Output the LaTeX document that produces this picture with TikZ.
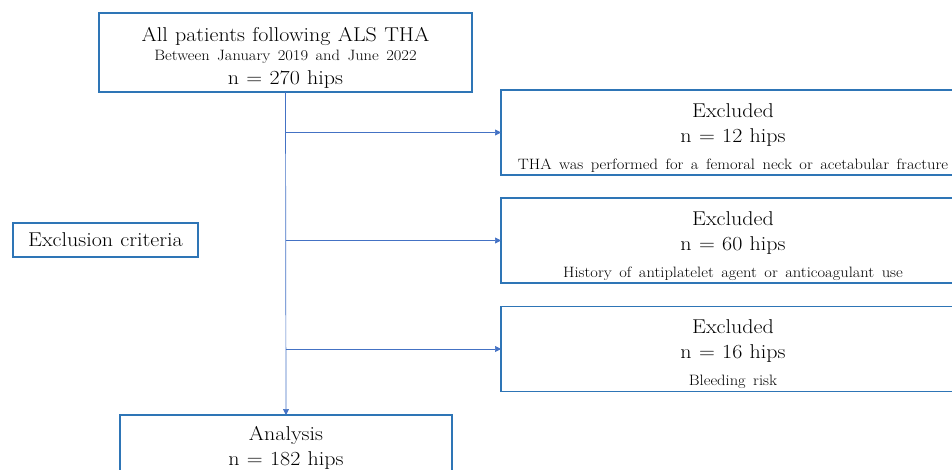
\documentclass[tikz,border=0pt]{standalone}
\usepackage{fontspec}
\setmainfont{Latin Modern Roman}[FakeStretch=1.1,WordSpace=1.1]
\newfontfamily\klfont{Latin Modern Roman}[FakeStretch=1.1,WordSpace=1.5]
\usetikzlibrary{arrows.meta}
\definecolor{rahmen}{HTML}{2E75B6}
\definecolor{linie}{HTML}{4472C4}
\tikzset{
	kasten/.style={draw=rahmen,line width=1.1pt,rectangle,inner sep=0pt,outer sep=0pt,align=center,font=\fontsize{20}{25}\selectfont},
	pfeil/.style={draw=linie,line width=0.7pt,-{Triangle[length=6pt,width=6pt]}}
}
\newcommand{\kl}[1]{{\klfont\fontsize{15}{19}\selectfont #1}}
\newcommand{\hoch}[1]{\rule{0pt}{#1pt}}
\begin{document}
\begin{tikzpicture}[x=1pt,y=-1pt]
	%\draw[step=50,gray!20] (0,0) grid (952,469); %Hilfsgitter
	\useasboundingbox (0,0) rectangle (952,469);
	\node[kasten,minimum width=373,minimum height=79] (Alle) at (285.5,52.5) {\hoch{24}All patients following ALS THA\\[-6pt]\kl{Between January 2019 and June 2022}\\[-1pt]n = 270 hips};
	\node[kasten,minimum width=332,minimum height=62,anchor=north] (Ana) at (286,415) {\hoch{17}Analysis\\n = 182 hips};
	\node[kasten,minimum width=185,minimum height=34] (Krit) at (105.5,240) {Exclusion criteria};
	
	\node[kasten,minimum width=464,minimum height=85,anchor=west] (Aus1) at (501,132.5) {\hoch{25}Excluded\\n = 12 hips\\[2pt]\kl{THA was performed for a femoral neck or acetabular fracture}};
	\node[kasten,minimum width=464,minimum height=85,anchor=west] (Aus2) at (501,240.5) {\hoch{25}Excluded\\n = 60 hips\\[2pt]\kl{History of antiplatelet agent or anticoagulant use}};
	\node[kasten,minimum width=464,minimum height=85,anchor=west] (Aus3) at (501,349) {\hoch{25}Excluded\\n = 16 hips\\[2pt]\kl{Bleeding risk}};
	
	\draw[pfeil] (Alle.south) -- (Ana.north);
	\draw[pfeil] (Alle.south |- Aus1.west) -- (Aus1.west); \draw[pfeil] (Alle.south |- Aus2.west) -- (Aus2.west); \draw[pfeil] (Alle.south |- Aus3.west) -- (Aus3.west);
\end{tikzpicture}
\end{document}
